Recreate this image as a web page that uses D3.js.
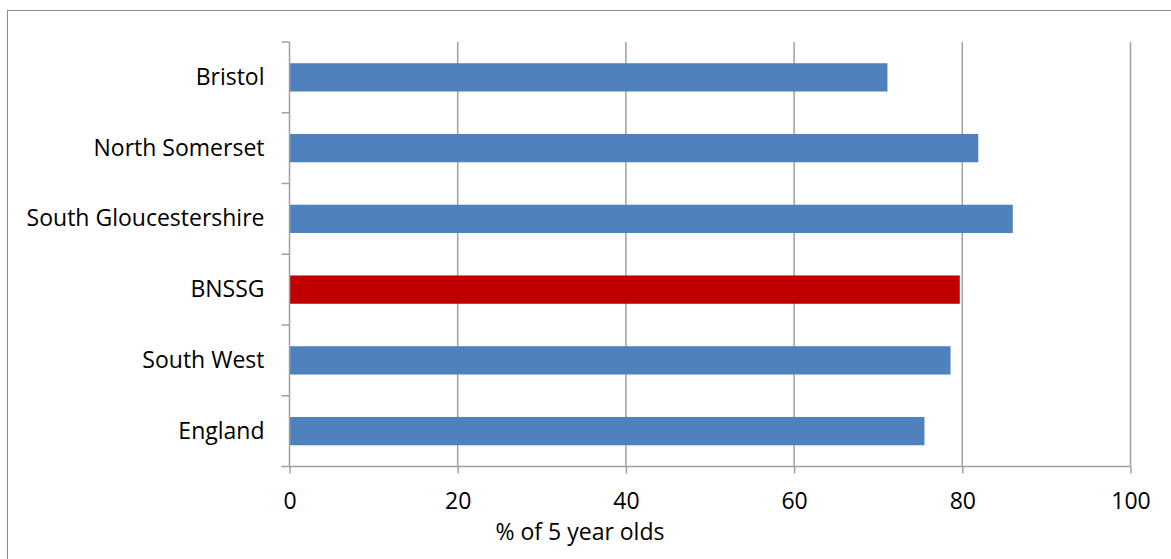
<!DOCTYPE html>
<html><head><meta charset="utf-8">
<script src="https://cdn.jsdelivr.net/npm/d3@7"></script>
<style>
html,body{margin:0;padding:0;background:#fff;}
svg{display:block;font-family:"Open Sans",sans-serif;}
</style></head>
<body>
<script>
const categories = ["Bristol","North Somerset","South Gloucestershire","BNSSG","South West","England"];
const values = [71.1, 81.9, 86.0, 79.7, 78.6, 75.5];
const highlight = ["BNSSG"];
const xTicks = [0,20,40,60,80,100];
const xTitle = "% of 5 year olds";

const W = 1171, H = 559;
const FS = "23px";
const svg = d3.select("body").append("svg").attr("width",W).attr("height",H);

svg.append("rect").attr("x",7.5).attr("y",10.5).attr("width",W).attr("height",H)
  .attr("fill","none").attr("stroke","#8c8c8c").attr("stroke-width",1);

const pLeft = 289.5, pRight = 1130.5, pTop = 42, pBottom = 466.5;
const x = d3.scaleLinear().domain([0,100]).range([pLeft,pRight]);
const y = d3.scaleBand().domain(categories).range([pTop,pBottom]).paddingInner(0.6).paddingOuter(0.3);
const yb = d3.scaleBand().domain(categories).range([pTop,pBottom]);

// gridlines
svg.append("g").selectAll("line").data(xTicks.filter(d=>d>0)).join("line")
  .attr("x1",d=>x(d)).attr("x2",d=>x(d)).attr("y1",pTop).attr("y2",pBottom)
  .attr("stroke","#a0a0a0").attr("stroke-width",1.5);

// bars
svg.append("g").selectAll("rect").data(categories).join("rect")
  .attr("x",x(0)).attr("y",d=>y(d)).attr("height",y.bandwidth())
  .attr("width",(d,i)=>x(values[i])-x(0))
  .attr("fill",d=>highlight.includes(d)?"#C00000":"#4F81BD");

// x axis
const xAxis = svg.append("g").attr("transform",`translate(0,${pBottom})`)
  .call(d3.axisBottom(x).tickValues(xTicks).tickSizeInner(7).tickSizeOuter(0).tickPadding(19));
xAxis.select(".domain").attr("stroke","#a0a0a0").attr("stroke-width",1.5).attr("d",`M${pLeft-8},0H${pRight}`);
xAxis.selectAll(".tick line").attr("stroke","#a0a0a0").attr("stroke-width",1.5);
xAxis.selectAll(".tick text").attr("fill","#000").style("font-size",FS).style("font-family","'Open Sans',sans-serif");

// y axis
const yAxis = svg.append("g").attr("transform",`translate(${pLeft},0)`)
  .call(d3.axisLeft(yb).tickSize(0).tickPadding(25));
yAxis.select(".domain").attr("stroke","#a0a0a0").attr("stroke-width",1.5).attr("d",`M0,${pTop}V${pBottom}`);
yAxis.selectAll(".tick text").attr("fill","#000").style("font-size",FS).style("font-family","'Open Sans',sans-serif");
// category boundary ticks
svg.append("g").selectAll("line").data(categories).join("line")
  .attr("x1",pLeft-8).attr("x2",pLeft).attr("y1",d=>yb(d)).attr("y2",d=>yb(d))
  .attr("stroke","#a0a0a0").attr("stroke-width",1.5);

svg.append("text").attr("x",580).attr("y",540).attr("text-anchor","middle")
  .style("font-size",FS).text(xTitle);
</script>
</body></html>
